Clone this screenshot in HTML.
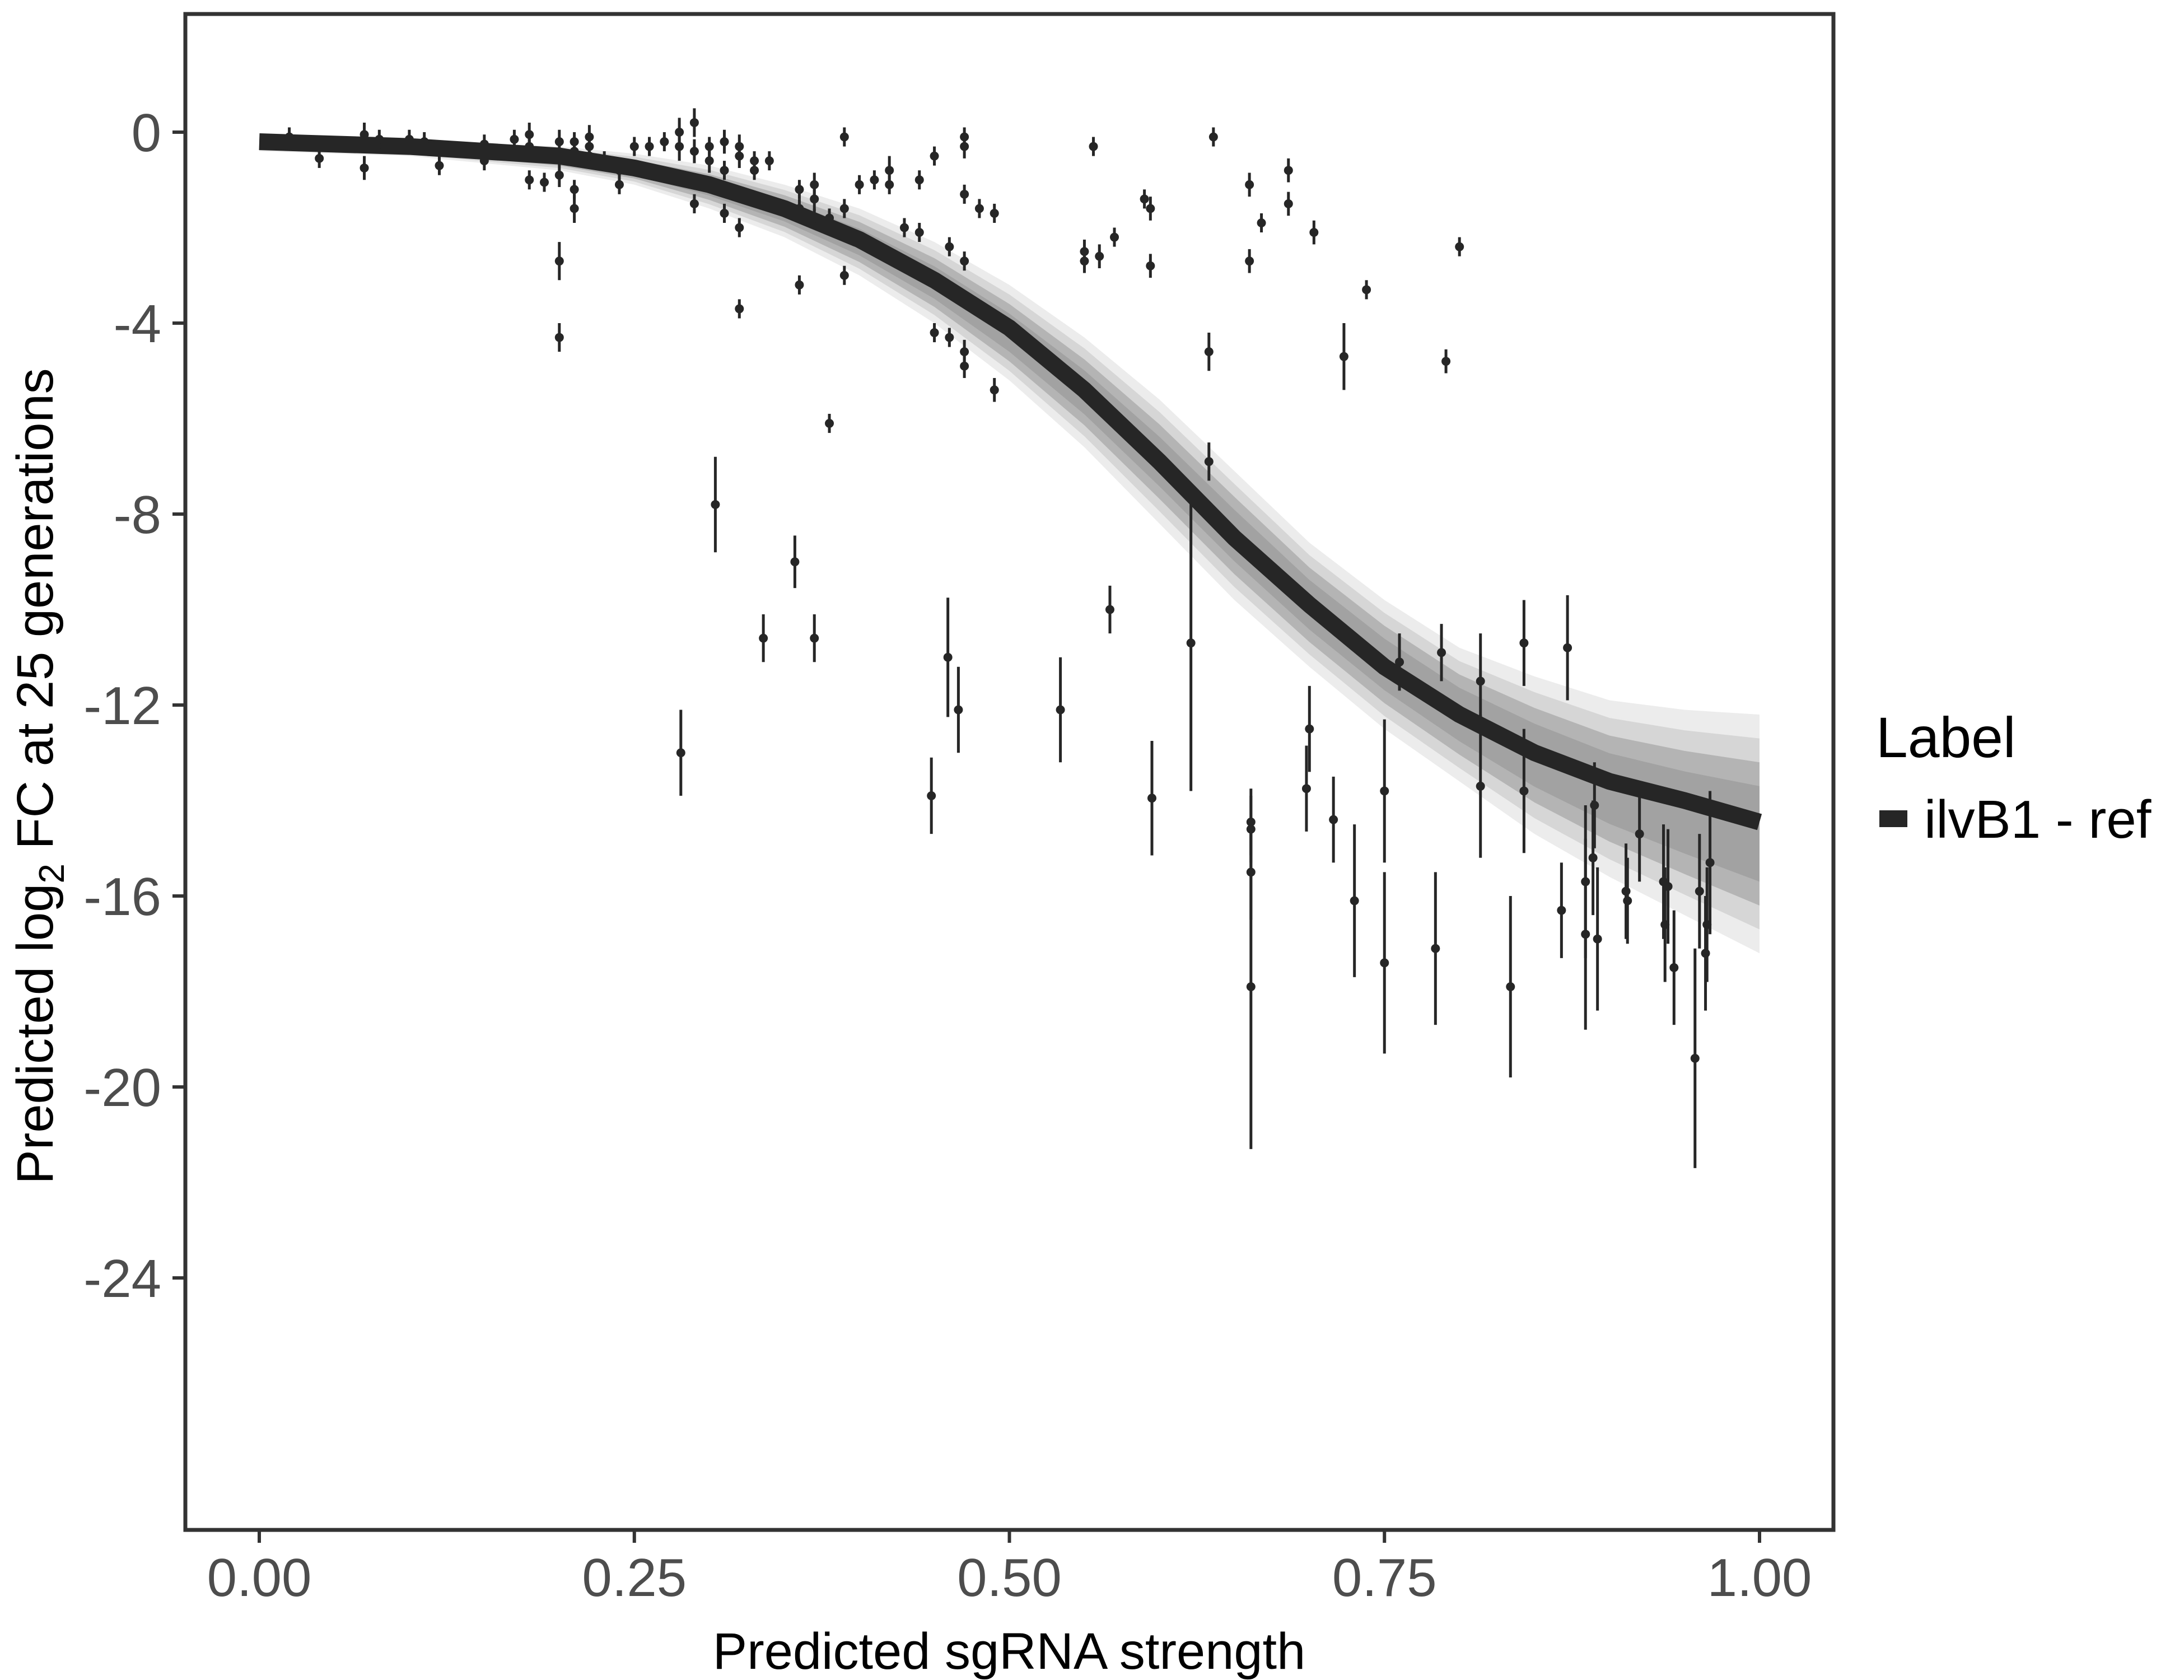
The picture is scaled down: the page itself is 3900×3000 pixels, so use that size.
<!DOCTYPE html>
<html><head><meta charset="utf-8"><style>
html,body{margin:0;padding:0;background:#fff;}
svg{display:block;font-family:"Liberation Sans",sans-serif;}
</style></head><body>
<svg id="chart" width="3900" height="3000" viewBox="0 0 3900 3000">
<rect x="0" y="0" width="3900" height="3000" fill="#fff"/>
<g id="band"></g>
<g id="curve"></g>
<g id="points"></g>
<rect x="331" y="25" width="2943" height="2707" fill="none" stroke="#333" stroke-width="7"/>
<g id="xaxis"></g>
<g id="yaxis"></g>
<text x="1802" y="2980" font-size="92" text-anchor="middle" fill="#000">Predicted sgRNA strength</text>
<text transform="translate(94,1386) rotate(-90)" font-size="92" text-anchor="middle" fill="#000">Predicted  log<tspan font-size="64" dy="20">2</tspan><tspan dy="-20"> FC at 25 generations</tspan></text>
<g>
<text x="3350" y="1352" font-size="102" fill="#000">Label</text>
<rect x="3356" y="1447" width="50" height="30" fill="#262626"/>
<text x="3436" y="1496" font-size="96" fill="#000">ilvB1 - ref</text>
</g>
</svg>
<script>
const curveX=[0,0.1,0.2,0.25,0.3,0.35,0.4,0.45,0.5,0.55,0.6,0.65,0.7,0.75,0.8,0.85,0.9,0.95,1.0];
const curveY=[-0.2,-0.3,-0.5,-0.75,-1.1,-1.6,-2.25,-3.1,-4.1,-5.4,-6.9,-8.5,-9.9,-11.2,-12.2,-13.0,-13.6,-14.0,-14.45];
const bandX=[0,0.1,0.2,0.25,0.3,0.35,0.4,0.45,0.5,0.55,0.6,0.65,0.7,0.75,0.8,0.85,0.9,0.95,1.0];
const bandUpper=[-0.1,-0.15,-0.3,-0.45,-0.7,-1.1,-1.6,-2.3,-3.2,-4.3,-5.6,-7.1,-8.6,-9.8,-10.8,-11.4,-11.9,-12.1,-12.2];
const bandLower=[-0.4,-0.5,-0.8,-1.1,-1.6,-2.2,-3.0,-4.0,-5.2,-6.6,-8.2,-9.8,-11.2,-12.5,-13.6,-14.7,-15.6,-16.4,-17.2];
const ptX=[0.02,0.04,0.07,0.07,0.07,0.08,0.1,0.11,0.12,0.15,0.15,0.17,0.18,0.18,0.18,0.19,0.2,0.2,0.21,0.21,0.21,0.22,0.22,0.22,0.23,0.24,0.24,0.25,0.26,0.27,0.28,0.28,0.29,0.29,0.29,0.3,0.3,0.31,0.31,0.31,0.32,0.32,0.32,0.33,0.33,0.34,
0.2,0.2,0.21,0.32,0.36,0.36,0.36,0.37,0.37,0.37,0.38,0.38,0.39,0.39,0.39,0.4,0.41,0.42,0.42,0.43,0.44,0.44,0.45,0.45,0.46,0.46,0.47,0.47,0.47,0.47,0.47,0.47,0.48,0.49,0.49,0.556,0.55,0.55,0.56,0.57,0.59,0.594,0.594,0.633,0.633,0.636,0.66,0.66,0.668,0.686,0.686,0.703,0.723,0.738,0.791,0.80,
0.281,0.304,0.336,0.357,0.37,0.448,0.459,0.466,0.534,0.595,0.567,0.621,0.661,0.661,0.661,0.661,0.698,0.70,0.716,0.73,0.75,0.75,0.76,0.784,0.788,0.814,0.814,0.834,0.843,0.843,0.868,0.872,0.884,0.884,0.889,0.89,0.892,0.911,0.912,0.92,0.936,0.937,0.939,0.943,0.957,0.96,0.964,0.967,0.965];
const ptY=[-0.1,-0.55,-0.05,-0.75,-0.2,-0.15,-0.15,-0.2,-0.7,-0.25,-0.6,-0.15,-0.05,-1.0,-0.3,-1.05,-0.2,-0.9,-0.2,-0.4,-1.2,-0.1,-0.3,-0.5,-0.6,-1.1,-0.8,-0.3,-0.3,-0.2,0.0,-0.3,0.2,-0.4,-1.5,-0.6,-0.3,-0.2,-0.8,-1.7,-0.3,-0.5,-2.0,-0.6,-0.8,-0.6,
-2.7,-4.3,-1.6,-3.7,-1.2,-1.6,-3.2,-1.1,-1.4,-1.8,-1.8,-6.1,-0.1,-1.6,-3.0,-1.1,-1.0,-1.1,-0.8,-2.0,-1.0,-2.1,-0.5,-4.2,-4.3,-2.4,-0.3,-2.7,-4.6,-4.9,-0.1,-1.3,-1.6,-1.7,-5.4,-0.3,-2.5,-2.7,-2.6,-2.2,-1.4,-1.6,-2.8,-4.6,-6.9,-0.1,-1.1,-2.7,-1.9,-0.8,-1.5,-2.1,-4.7,-3.3,-4.8,-2.4,
-13.0,-7.8,-10.6,-9.0,-10.6,-13.9,-11.0,-12.1,-12.1,-13.95,-10.0,-10.7,-14.45,-14.6,-15.5,-17.9,-13.75,-12.5,-14.4,-16.1,-13.8,-17.4,-11.1,-17.1,-10.9,-11.5,-13.7,-17.9,-10.7,-13.8,-16.3,-10.8,-15.7,-16.8,-15.2,-14.1,-16.9,-15.9,-16.1,-14.7,-15.7,-16.6,-15.8,-17.5,-19.4,-15.9,-17.2,-15.3,-16.6];
const ptErr=[0.2,0.2,0.25,0.25,0.2,0.2,0.2,0.2,0.2,0.2,0.2,0.2,0.25,0.2,0.25,0.2,0.25,0.25,0.2,0.2,0.2,0.25,0.25,0.25,0.2,0.2,0.2,0.2,0.2,0.2,0.3,0.3,0.3,0.25,0.2,0.25,0.2,0.25,0.2,0.2,0.25,0.25,0.2,0.2,0.2,0.2,
0.4,0.3,0.3,0.2,0.2,0.2,0.2,0.25,0.25,0.2,0.2,0.2,0.2,0.2,0.2,0.2,0.2,0.2,0.3,0.2,0.2,0.2,0.2,0.2,0.2,0.2,0.25,0.2,0.25,0.25,0.2,0.2,0.2,0.2,0.25,0.2,0.25,0.25,0.25,0.2,0.2,0.25,0.25,0.4,0.4,0.2,0.25,0.25,0.2,0.25,0.25,0.25,0.7,0.2,0.25,0.2,
0.9,1.0,0.5,0.55,0.5,0.8,1.25,0.9,1.1,1.2,0.5,3.1,0.7,0.7,1.0,3.4,0.9,0.9,0.9,1.6,1.5,1.9,0.6,1.6,0.6,1.0,1.5,1.9,0.9,1.3,1.0,1.1,1.6,2.0,1.2,0.9,1.5,1.0,0.9,1.0,1.2,1.2,1.2,1.2,2.3,1.2,1.2,1.5,1.2];
const yTicks=[0,-4,-8,-12,-16,-20,-24];
const xTicks=[0,0.25,0.5,0.75,1.0];
const xTickLabels=["0.00","0.25","0.50","0.75","1.00"];

const NS="http://www.w3.org/2000/svg";
function sx(v){return 463+v*(3142-463);}
function sy(v){return 236-v*((2282-236)/24);}
function mk(tag,attrs,parent){const e=document.createElementNS(NS,tag);for(const k in attrs)e.setAttribute(k,attrs[k]);parent.appendChild(e);return e;}

const band=document.getElementById('band');
const layers=[[0,1,'#ececec'],[0.1,0.9,'#d6d6d6'],[0.2,0.8,'#b4b4b4'],[0.3,0.7,'#a2a2a2']];
for(const L of layers){
  let pts=[];
  for(let i=0;i<bandX.length;i++)pts.push(sx(bandX[i])+","+sy(bandUpper[i]*(1-L[0])+bandLower[i]*L[0]));
  for(let i=bandX.length-1;i>=0;i--)pts.push(sx(bandX[i])+","+sy(bandUpper[i]*(1-L[1])+bandLower[i]*L[1]));
  const poly=mk('polygon',{points:pts.join(' '),fill:L[2]},band);
  
  
}

const cg=document.getElementById('curve');
let d="";
for(let i=0;i<curveX.length;i++)d+=(i?"L":"M")+sx(curveX[i])+","+sy(curveY[i]);
const cp=mk('path',{d:d,fill:'none',stroke:'#262626','stroke-width':30,'stroke-linejoin':'round'},cg);



const pg=document.getElementById('points');
for(let i=0;i<ptX.length;i++){
  const x=sx(ptX[i]),y=sy(ptY[i]);
  const l=mk('line',{x1:x,x2:x,y1:sy(ptY[i]+ptErr[i]),y2:sy(ptY[i]-ptErr[i]),stroke:'#262626','stroke-width':5},pg);
  
  
  const c=mk('circle',{cx:x,cy:y,r:8,fill:'#262626'},pg);
  
  
}

const xg=document.getElementById('xaxis');
for(let i=0;i<xTicks.length;i++){
  const x=sx(xTicks[i]);
  const t=mk('line',{x1:x,x2:x,y1:2735,y2:2755,stroke:'#333','stroke-width':6},xg);
  
  
  const tx=mk('text',{x:x,y:2850,'font-size':96,'text-anchor':'middle',fill:'#4d4d4d'},xg);
  tx.textContent=xTickLabels[i];
  
  
}
const yg=document.getElementById('yaxis');
for(let i=0;i<yTicks.length;i++){
  const y=sy(yTicks[i]);
  const t=mk('line',{x1:308,x2:328,y1:y,y2:y,stroke:'#333','stroke-width':6},yg);
  
  
  const tx=mk('text',{x:288,y:y+34,'font-size':96,'text-anchor':'end',fill:'#4d4d4d'},yg);
  tx.textContent=String(yTicks[i]);
  
  
}
</script>
</body></html>
